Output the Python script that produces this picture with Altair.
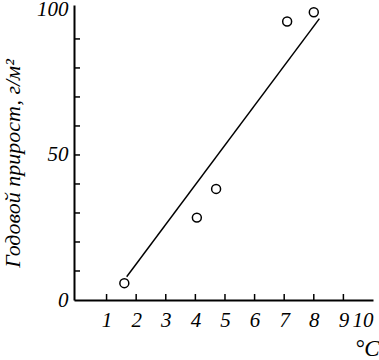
import altair as alt
import pandas as pd

# observed points
temp = [1.6, 4.05, 4.7, 7.1, 8.0]
growth = [5.8, 28.4, 38.3, 96.0, 99.2]

# regression line endpoints
line_t = [1.68, 8.19]
line_g = [8.0, 97.0]

x_ticks = [1, 2, 3, 4, 5, 6, 7, 8, 9]
y_ticks = [10, 20, 30, 40, 50, 60, 70, 80, 90]
x_labels = [1, 2, 3, 4, 5, 6, 7, 8, 9, 10]
y_labels = [0, 50, 100]

W, H = 299, 295
FONT = "Liberation Serif"

pts = pd.DataFrame({"t": temp, "g": growth})
ln = pd.DataFrame({"t": line_t, "g": line_g})
xt = pd.DataFrame({"t": x_ticks})
yt = pd.DataFrame({"g": y_ticks})

xs = alt.Scale(domain=[-0.1, 10], nice=False, zero=False)
ys = alt.Scale(domain=[0, 101.7], nice=False, zero=False)

x_axis = alt.Axis(values=x_labels, title="°C", titleFont=FONT, titleFontSize=23,
                  titleFontWeight="normal", titleFontStyle="italic", titleColor="black",
                  titleX=305, titleY=60, titleAlign="right", titleBaseline="bottom",
                  titleAnchor="end", labelFlush=True, labelPadding=9, labelOverlap=False)
y_axis = alt.Axis(values=y_labels, title="Годовой прирост, г/м²", titleFont=FONT,
                  titleFontSize=22, titleFontWeight="normal", titleFontStyle="italic",
                  titleColor="black", titleX=-62, titleY=158, titleAlign="center",
                  titleBaseline="middle", titleAngle=-90, labelFlush=False, labelPadding=6,
                  labelOverlap=False)

line = alt.Chart(ln).mark_line(color="black", strokeWidth=1.5).encode(
    x=alt.X("t:Q", scale=xs, axis=x_axis),
    y=alt.Y("g:Q", scale=ys, axis=y_axis),
)
points = alt.Chart(pts).mark_point(shape="circle", size=80, color="black", fill="white",
                                   filled=False, strokeWidth=1.5, opacity=1).encode(
    x=alt.X("t:Q", scale=xs, axis=x_axis),
    y=alt.Y("g:Q", scale=ys, axis=y_axis),
)
xtick = alt.Chart(xt).mark_rule(color="black", strokeWidth=1.5).encode(
    x=alt.X("t:Q", scale=xs, axis=x_axis),
    y=alt.value(H), y2=alt.value(H - 6),
)
ytick = alt.Chart(yt).mark_rule(color="black", strokeWidth=1.5).encode(
    y=alt.Y("g:Q", scale=ys, axis=y_axis),
    x=alt.value(0), x2=alt.value(6),
)

chart = alt.layer(line, points, xtick, ytick).properties(
    width=W, height=H,
    autosize=alt.AutoSizeParams(type="none"),
    padding={"left": 74, "top": 5, "right": 6, "bottom": 60},
    background="white",
).configure_view(stroke=None).configure_axis(
    grid=False, ticks=False, domainColor="black", domainWidth=2,
    labelFont=FONT, labelFontSize=21, labelFontStyle="italic", labelColor="black",
)

chart.save("out.html", embed_options={"renderer": "svg", "actions": False})
